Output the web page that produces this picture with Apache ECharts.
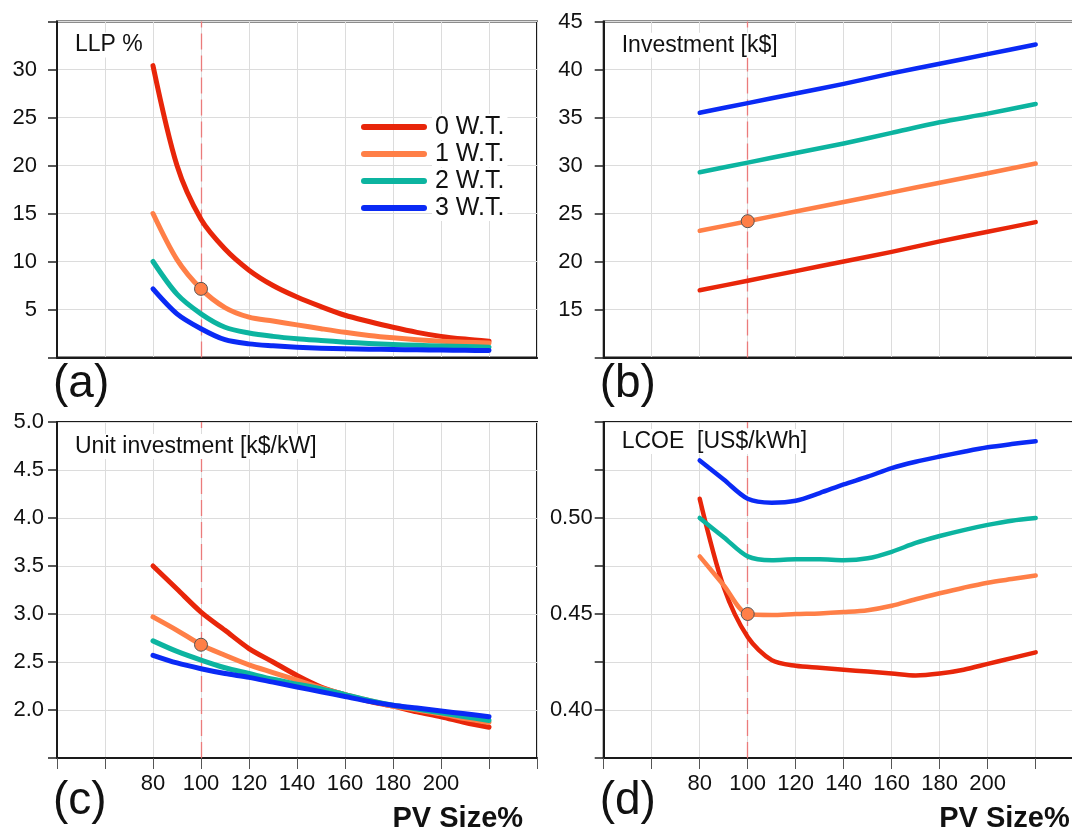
<!DOCTYPE html>
<html>
<head>
<meta charset="utf-8">
<script src="https://cdn.jsdelivr.net/npm/echarts@6.0.0/dist/echarts.min.js"></script>
<style>
html,body{margin:0;padding:0;background:#fff;}
#chart{width:1072px;height:831px;}
</style>
</head>
<body>
<div id="chart"></div>
<script>
// ---------------- data ----------------
const pvSizes = [80, 90, 100, 110, 120, 130, 140, 150, 160, 170, 180, 190, 200, 210, 220];
const pvSizesCoarse = [80, 100, 120, 140, 160, 180, 200, 220];
const seriesNames = ['0 W.T.', '1 W.T.', '2 W.T.', '3 W.T.'];
const seriesColors = ['#E8260A', '#FF7F47', '#0CB4A0', '#0A2AF5'];

// (a) LLP %
const llp0 = [30.4, 20.0, 14.4, 11.3, 9.1, 7.5, 6.3, 5.3, 4.4, 3.75, 3.15, 2.62, 2.2, 1.92, 1.7];
const llp1 = [15.0, 10.2, 7.15, 5.2, 4.2, 3.8, 3.4, 3.0, 2.62, 2.3, 2.05, 1.85, 1.7, 1.6, 1.5];
const llp2 = [10.0, 6.6, 4.55, 3.15, 2.55, 2.2, 1.95, 1.77, 1.6, 1.46, 1.36, 1.27, 1.2, 1.14, 1.08];
const llp3 = [7.15, 4.55, 3.0, 1.85, 1.42, 1.22, 1.07, 0.97, 0.91, 0.87, 0.83, 0.8, 0.78, 0.75, 0.73];

// (b) Investment [k$]
const inv0 = [17.0, 18.0, 19.0, 20.0, 21.0, 22.1, 23.1, 24.1];
const inv1 = [23.2, 24.2, 25.2, 26.2, 27.2, 28.2, 29.2, 30.2];
const inv2 = [29.3, 30.3, 31.3, 32.3, 33.4, 34.5, 35.4, 36.4];
const inv3 = [35.5, 36.5, 37.5, 38.5, 39.6, 40.6, 41.6, 42.6];

// (c) Unit investment [k$/kW]
const unit0 = [3.50, 3.26, 3.02, 2.83, 2.64, 2.50, 2.36, 2.24, 2.16, 2.09, 2.04, 1.98, 1.93, 1.87, 1.82];
const unit1 = [2.97, 2.83, 2.68, 2.57, 2.47, 2.39, 2.31, 2.23, 2.16, 2.10, 2.04, 2.00, 1.96, 1.91, 1.87];
const unit2 = [2.72, 2.61, 2.52, 2.44, 2.38, 2.32, 2.27, 2.22, 2.16, 2.10, 2.05, 2.01, 1.97, 1.93, 1.89];
const unit3 = [2.57, 2.49, 2.43, 2.38, 2.34, 2.29, 2.24, 2.19, 2.14, 2.09, 2.05, 2.02, 1.99, 1.96, 1.93];

// (d) LCOE [US$/kWh]
const lcoe0 = [0.510, 0.464, 0.438, 0.426, 0.423, 0.422, 0.421, 0.420, 0.419, 0.418, 0.419, 0.421, 0.424, 0.427, 0.430];
const lcoe1 = [0.480, 0.465, 0.450, 0.4495, 0.450, 0.4503, 0.451, 0.452, 0.4543, 0.4577, 0.4608, 0.4637, 0.4663, 0.4682, 0.470];
const lcoe2 = [0.500, 0.490, 0.480, 0.478, 0.4785, 0.4785, 0.478, 0.479, 0.4824, 0.487, 0.4906, 0.4937, 0.4964, 0.4986, 0.500];
const lcoe3 = [0.530, 0.520, 0.510, 0.508, 0.509, 0.513, 0.5175, 0.5215, 0.526, 0.5293, 0.532, 0.5345, 0.5368, 0.5385, 0.540];

// tick labels
const xTickLabels = [80, 100, 120, 140, 160, 180, 200];
const yTicksA = [5, 10, 15, 20, 25, 30];
const yTicksB = [15, 20, 25, 30, 35, 40, 45];
const yTicksC = [2.0, 2.5, 3.0, 3.5, 4.0, 4.5, 5.0];
const yTicksD = [0.40, 0.45, 0.50];

const panelTitles = ['LLP %', 'Investment [k$]', 'Unit investment [k$/kW]', 'LCOE  [US$/kWh]'];
const panelLetters = ['(a)', '(b)', '(c)', '(d)'];
const xAxisTitle = 'PV Size%';
const highlightX = 100;     // chosen PV size
const highlightSeries = 1;  // 1 W.T.

// ---------------- layout / style ----------------
const FONT = '"Liberation Sans", Arial, Helvetica, sans-serif';
const INK = '#111';
const GRIDC = '#dcdcdc';

const panels = [
  { x: pvSizes, vals: [llp0, llp1, llp2, llp3], yMin: 0, yMax: 35, yInt: 5, ticks: yTicksA, dec: 0, margin: 20, width: 5 },
  { x: pvSizesCoarse, vals: [inv0, inv1, inv2, inv3], yMin: 10, yMax: 45, yInt: 5, ticks: yTicksB, dec: 0, margin: 21, width: 4.5 },
  { x: pvSizes, vals: [unit0, unit1, unit2, unit3], yMin: 1.5, yMax: 5.0, yInt: 0.5, ticks: yTicksC, dec: 1, margin: 13, width: 5 },
  { x: pvSizes, vals: [lcoe0, lcoe1, lcoe2, lcoe3], yMin: 0.375, yMax: 0.55, yInt: 0.025, ticks: yTicksD, dec: 2, margin: 11, width: 4.5 }
];

const gridPos = [
  { left: 57, top: 21.5 },
  { left: 603.7, top: 21.5 },
  { left: 57, top: 422 },
  { left: 603.7, top: 422 }
];
const GW = 480, GH = 336;

const grid = gridPos.map(p => ({
  left: p.left, top: p.top, width: GW, height: GH,
  outerBoundsMode: 'none', containLabel: false,
  show: true, borderColor: '#1a1a1a', borderWidth: 2, backgroundColor: 'transparent'
}));

const xAxis = panels.map((p, i) => ({
  type: 'value', gridIndex: i, min: 40, max: 240, interval: 20,
  axisLine: { show: true, onZero: false, lineStyle: { color: '#1a1a1a', width: 2 } },
  axisTick: { show: i >= 2, length: 11, lineStyle: { color: '#555', width: 1 } },
  axisLabel: {
    show: i >= 2, margin: 15, fontSize: 22, color: INK, fontFamily: FONT,
    formatter: v => xTickLabels.includes(v) ? String(v) : ''
  },
  splitLine: { show: true, lineStyle: { color: GRIDC, width: 1 } }
}));

const yAxis = panels.map((p, i) => ({
  type: 'value', gridIndex: i, min: p.yMin, max: p.yMax, interval: p.yInt,
  axisLine: { show: true, onZero: false, lineStyle: { color: '#1a1a1a', width: 2 } },
  axisTick: { show: true, length: 9, lineStyle: { color: '#222', width: 1.5 } },
  axisLabel: {
    margin: p.margin, fontSize: 22, color: INK, fontFamily: FONT,
    showMinLabel: true, showMaxLabel: true,
    formatter: v => p.ticks.some(t => Math.abs(t - v) < 1e-6) ? v.toFixed(p.dec) : ''
  },
  splitLine: { show: true, lineStyle: { color: GRIDC, width: 1 } }
}));

const series = [];
panels.forEach((p, i) => {
  p.vals.forEach((vals, k) => {
    const s = {
      type: 'line', name: seriesNames[k], xAxisIndex: i, yAxisIndex: i,
      data: p.x.map((x, j) => [x, vals[j]]),
      showSymbol: false, symbol: 'none', smooth: 0.3,
      color: seriesColors[k],
      lineStyle: { color: seriesColors[k], width: p.width, cap: 'round', join: 'round' },
      silent: true, z: 3 + k
    };
    if (k === 0) {
      s.markLine = {
        silent: true, symbol: ['none', 'none'], label: { show: false },
        lineStyle: { color: '#EC7070', width: 1.3, type: [16, 6], opacity: 0.9 },
        data: [{ xAxis: highlightX }],
        z: 1
      };
    }
    series.push(s);
  });
  const idx = p.x.indexOf(highlightX);
  series.push({
    type: 'scatter', xAxisIndex: i, yAxisIndex: i,
    data: [[highlightX, p.vals[highlightSeries][idx]]],
    symbol: 'circle', symbolSize: 13, silent: true, z: 20,
    itemStyle: { color: seriesColors[highlightSeries], borderColor: '#555', borderWidth: 1, opacity: 1 }
  });
});

// text annotations
const graphic = [];
const titleY = [46.5, 46.7, 448, 443];
gridPos.forEach((g, i) => {
  graphic.push({
    type: 'text', left: g.left + 15, top: titleY[i] - 14, z: 50,
    style: {
      text: panelTitles[i], font: '23px ' + FONT, fill: INK,
      backgroundColor: '#fff', padding: [1, 3, 1, 3]
    }
  });
  graphic.push({
    type: 'text', left: g.left - 4, top: (i < 2 ? 388 : 805) - 27, z: 50,
    style: { text: panelLetters[i], font: '46px ' + FONT, fill: INK }
  });
});
[2, 3].forEach(i => {
  graphic.push({
    type: 'text', left: gridPos[i].left + 335.5, top: 804, z: 50,
    style: { text: xAxisTitle, font: 'bold 29px ' + FONT, fill: INK }
  });
});

const option = {
  animation: false,
  backgroundColor: '#fff',
  grid, xAxis, yAxis, series, graphic,
  legend: {
    show: true, data: seriesNames, orient: 'vertical',
    left: 361, top: 114, itemWidth: 66, itemHeight: 6, itemGap: 1,
    icon: 'path://M3,0L63,0A3,3,0,0,1,63,6L3,6A3,3,0,0,1,3,0Z',
    selectedMode: false, padding: 0,
    textStyle: {
      fontSize: 25, color: INK, fontFamily: FONT, lineHeight: 26,
      backgroundColor: '#fff', padding: [0, 3, 0, 3]
    }
  }
};

const chart = echarts.init(document.getElementById('chart'), null, { renderer: 'canvas' });
chart.setOption(option);
</script>
</body>
</html>
